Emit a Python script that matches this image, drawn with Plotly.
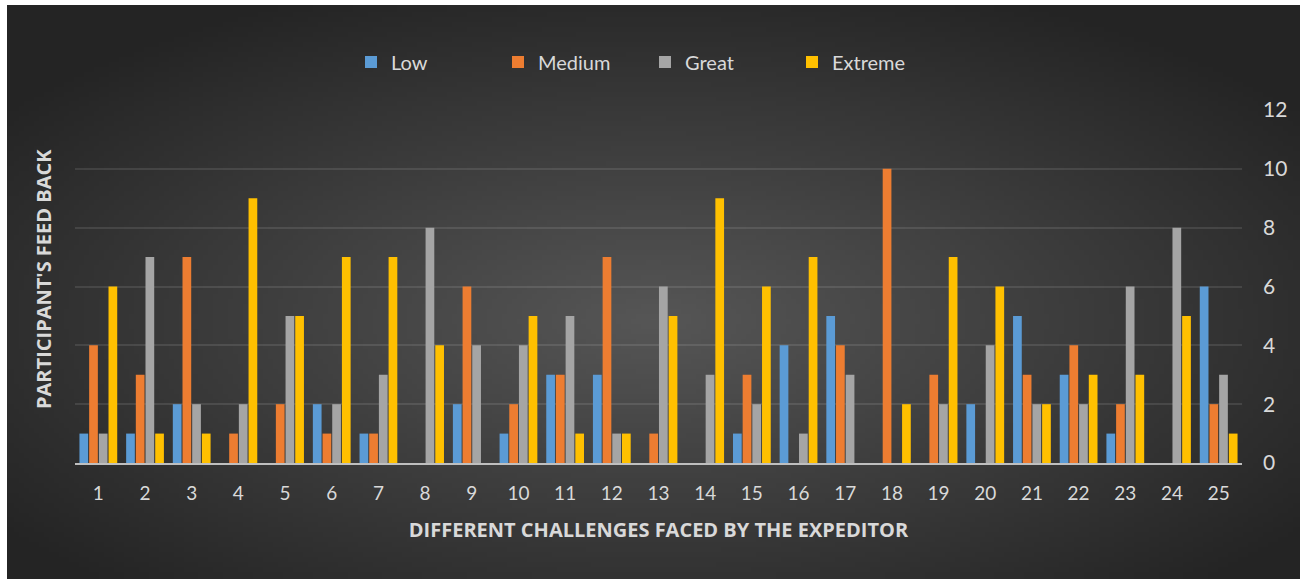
import base64, struct, zlib, math
import plotly.graph_objects as go

categories = [str(i) for i in range(1, 26)]
low     = [1, 1, 2, 0, 0, 2, 1, 0, 2, 1, 3, 3, 0, 0, 1, 4, 5, 0, 0, 2, 5, 3, 1, 0, 6]
medium  = [4, 3, 7, 1, 2, 1, 1, 0, 6, 2, 3, 7, 1, 0, 3, 0, 4, 10, 3, 0, 3, 4, 2, 0, 2]
great   = [1, 7, 2, 2, 5, 2, 3, 8, 4, 4, 5, 1, 6, 3, 2, 1, 3, 0, 2, 4, 2, 2, 6, 8, 3]
extreme = [6, 1, 1, 9, 5, 7, 7, 4, 0, 5, 1, 1, 5, 9, 6, 7, 0, 2, 7, 6, 2, 3, 3, 5, 1]
series_names = ["Low", "Medium", "Great", "Extreme"]
series_colors = ["#5B9BD5", "#ED7D31", "#A5A5A5", "#FFC000"]


def radial_png(w=260, h=116, center=86, edge=36):
    raw = bytearray()
    for j in range(h):
        raw.append(0)
        for i in range(w):
            dx = ((i + 0.5) / w - 0.5) / 0.5
            dy = ((j + 0.5) / h - 0.55) / 0.5
            r = min(1.0, math.sqrt(dx * dx + dy * dy) / 1.25)
            v = int(round(center - (center - edge) * r))
            raw += bytes([v, v, v])

    def chunk(tag, data):
        c = struct.pack(">I", len(data)) + tag + data
        return c + struct.pack(">I", zlib.crc32(tag + data) & 0xffffffff)

    png = b"\x89PNG\r\n\x1a\n"
    png += chunk(b"IHDR", struct.pack(">IIBBBBB", w, h, 8, 2, 0, 0, 0))
    png += chunk(b"IDAT", zlib.compress(bytes(raw), 9))
    png += chunk(b"IEND", b"")
    return "data:image/png;base64," + base64.b64encode(png).decode()


W, H = 1300, 579
L, R, T, B = 75, 58, 110, 116
pw, ph = W - L - R, H - T - B

fig = go.Figure()
for name, vals, col in zip(series_names, [low, medium, great, extreme], series_colors):
    fig.add_trace(go.Bar(x=categories, y=vals, name=name, marker=dict(color=col, line=dict(width=0))))

txt = "#D9D9D9"
fig.update_layout(
    width=W, height=H,
    margin=dict(l=L, r=R, t=T, b=B),
    paper_bgcolor="white",
    plot_bgcolor="rgba(0,0,0,0)",
    barmode="group", bargap=0.17, bargroupgap=0.1,
    font=dict(family="Lato, Open Sans, sans-serif", color=txt),
    legend=dict(orientation="h", x=(351 - L) / pw, xanchor="left",
                y=(463 - 62) / ph, yanchor="middle",
                font=dict(size=20, color=txt, family="Lato, sans-serif"),
                entrywidth=102, entrywidthmode="pixels",
                itemwidth=30,
                bgcolor="rgba(0,0,0,0)"),
    xaxis=dict(showgrid=False, showline=True, linecolor="#BFBFBF", linewidth=2,
               ticks="", ticklabelstandoff=12,
               tickfont=dict(size=19, color=txt, family="Lato, sans-serif"),
               title=dict(text="<b>DIFFERENT CHALLENGES FACED BY THE EXPEDITOR</b>",
                          font=dict(size=20, color=txt, family="Open Sans, sans-serif"),
                          standoff=20)),
    yaxis=dict(side="right", range=[0, 12], dtick=2, showgrid=True,
               gridcolor="rgba(255,255,255,0.10)", gridwidth=1.5,
               zeroline=False, ticks="",
               tickfont=dict(size=21, color=txt, family="Lato, sans-serif"),
               ticklabelstandoff=20),
    images=[dict(source=radial_png(), xref="paper", yref="paper",
                 x=(7 - L) / pw, y=(463 - 5) / ph,
                 sizex=(W - 7) / pw, sizey=(H - 5) / ph,
                 xanchor="left", yanchor="top", sizing="stretch", layer="below")],
    annotations=[dict(text="<b>PARTICIPANT'S FEED BACK</b>", textangle=-90,
                      xref="paper", yref="paper", x=(43 - L) / pw, y=(463 - 279) / ph,
                      xanchor="center", yanchor="middle", showarrow=False,
                      font=dict(size=20, color=txt, family="Open Sans, sans-serif"))],
)

fig.write_html("out.html")
